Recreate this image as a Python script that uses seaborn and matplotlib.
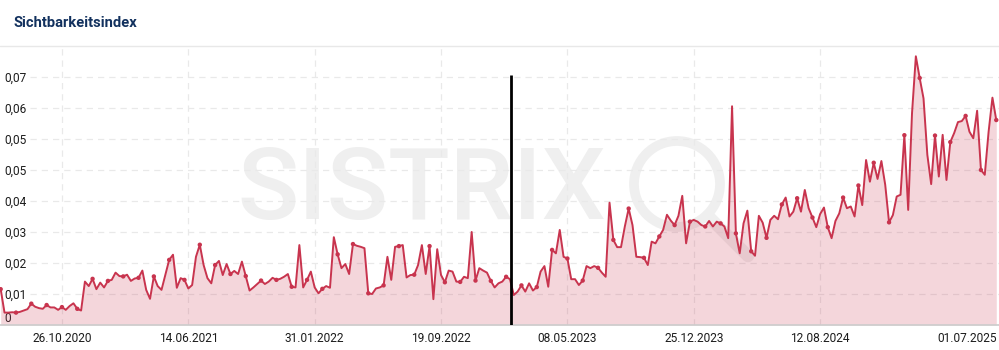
import matplotlib
matplotlib.use("Agg")
import matplotlib.pyplot as plt
import seaborn as sns
import pandas as pd
from matplotlib.patches import Circle
from matplotlib.lines import Line2D

# ---------------- data ----------------
title = "Sichtbarkeitsindex"
first_week = "2020-07-06"
visibility = [
    0.0104, 0.0036, 0.0036, 0.0037, 0.0036, 0.0038, 0.0042, 0.0046, 0.0062, 0.0053,
    0.0049, 0.0047, 0.0058, 0.0051, 0.0051, 0.0044, 0.0052, 0.0044, 0.0055, 0.0063,
    0.0047, 0.0042, 0.0126, 0.0113, 0.0134, 0.0104, 0.0123, 0.0109, 0.0128, 0.0131,
    0.0152, 0.0142, 0.0141, 0.0146, 0.0128, 0.0135, 0.0137, 0.0158, 0.0102, 0.0076,
    0.0141, 0.0113, 0.0102, 0.0145, 0.0189, 0.0204, 0.0108, 0.0136, 0.0131, 0.0106,
    0.0116, 0.0198, 0.0233, 0.0174, 0.0136, 0.0121, 0.0174, 0.0186, 0.0145, 0.0177,
    0.0148, 0.0157, 0.0148, 0.0184, 0.0142, 0.0100, 0.0109, 0.0119, 0.0129, 0.0119,
    0.0126, 0.0137, 0.0131, 0.0134, 0.0140, 0.0148, 0.0111, 0.0109, 0.0232, 0.0109,
    0.0131, 0.0155, 0.0109, 0.0092, 0.0105, 0.0113, 0.0108, 0.0255, 0.0205, 0.0165,
    0.0177, 0.0148, 0.0235, 0.0230, 0.0227, 0.0223, 0.0092, 0.0090, 0.0106, 0.0109,
    0.0115, 0.0198, 0.0131, 0.0227, 0.0229, 0.0232, 0.0138, 0.0145, 0.0146, 0.0174,
    0.0232, 0.0148, 0.0229, 0.0075, 0.0220, 0.0145, 0.0124, 0.0158, 0.0155, 0.0126,
    0.0125, 0.0140, 0.0136, 0.0270, 0.0129, 0.0165, 0.0158, 0.0152, 0.0128, 0.0109,
    0.0121, 0.0126, 0.0140, 0.0133, 0.0087, 0.0097, 0.0115, 0.0097, 0.0121, 0.0100,
    0.0110, 0.0155, 0.0171, 0.0111, 0.0218, 0.0208, 0.0276, 0.0198, 0.0193, 0.0133,
    0.0133, 0.0116, 0.0129, 0.0171, 0.0165, 0.0171, 0.0166, 0.0152, 0.0140, 0.0355,
    0.0247, 0.0226, 0.0226, 0.0286, 0.0338, 0.0290, 0.0198, 0.0197, 0.0195, 0.0174,
    0.0242, 0.0237, 0.0257, 0.0276, 0.0320, 0.0303, 0.0290, 0.0317, 0.0375, 0.0237,
    0.0300, 0.0305, 0.0300, 0.0290, 0.0286, 0.0302, 0.0286, 0.0300, 0.0295, 0.0286,
    0.0252, 0.0635, 0.0266, 0.0208, 0.0295, 0.0332, 0.0214, 0.0201, 0.0317, 0.0297,
    0.0253, 0.0305, 0.0317, 0.0307, 0.0350, 0.0370, 0.0315, 0.0329, 0.0368, 0.0329,
    0.0392, 0.0339, 0.0312, 0.0284, 0.0322, 0.0341, 0.0284, 0.0252, 0.0302, 0.0324,
    0.0370, 0.0339, 0.0344, 0.0315, 0.0405, 0.0348, 0.0479, 0.0416, 0.0471, 0.0424,
    0.0476, 0.0407, 0.0298, 0.0319, 0.0373, 0.0378, 0.0551, 0.0334, 0.0615, 0.0780,
    0.0717, 0.0658, 0.0494, 0.0409, 0.0550, 0.0431, 0.0552, 0.0421, 0.0531, 0.0557,
    0.0589, 0.0592, 0.0607, 0.0561, 0.0542, 0.0622, 0.0450, 0.0436, 0.0561, 0.0660,
    0.0595,
]
x_tick_labels = ["26.10.2020", "14.06.2021", "31.01.2022", "19.09.2022",
                 "08.05.2023", "25.12.2023", "12.08.2024", "01.07.2025"]
y_ticks = [0, 0.009, 0.018, 0.027, 0.036, 0.045, 0.054, 0.063, 0.072]
y_tick_labels = ["0", "0,01", "0,02", "0,03", "0,04", "0,05", "0,05", "0,06", "0,07"]
event_date = "2023-01-25"
event_top = 0.0726

# ---------------- style ----------------
LINE = "#c8344e"
GRID = "#e9e9e9"
TEXT = "#1c1c1c"

sns.set_theme(style="white")
plt.rcParams["font.family"] = ["Roboto", "DejaVu Sans"]

W, H = 999, 350
fig = plt.figure(figsize=(W / 100, H / 100), dpi=100)
fig.patch.set_facecolor("white")

# background watermark layer (pixel coordinates)
bg = fig.add_axes([0, 0, 1, 1], zorder=0)
bg.set_xlim(0, W)
bg.set_ylim(H, 0)
bg.axis("off")
bg.text(422, 192, "SISTRIX", fontsize=73, color="#efefef", ha="center",
        va="center", fontweight="medium")
bg.add_patch(Circle((677, 184), 43, fill=False, lw=7, ec="#efefef"))
bg.plot([708, 748], [216, 256], color="#efefef", lw=9, solid_capstyle="round")

# main chart
ax = fig.add_axes([0, 25 / H, 1, 278 / H], zorder=1)
ax.set_facecolor("none")

df = pd.DataFrame({
    "date": pd.date_range(first_week, periods=len(visibility), freq="7D"),
    "value": visibility,
})
df_dots = df.iloc[::4]

ax.fill_between(df["date"], df["value"], 0, color=LINE, alpha=0.2, lw=0, zorder=2)
sns.lineplot(data=df, x="date", y="value", ax=ax, color=LINE, linewidth=1.4, zorder=3)
sns.scatterplot(data=df_dots, x="date", y="value", ax=ax, color=LINE, s=10,
                edgecolor="none", zorder=4)

ax.set_xlim(pd.Timestamp("2020-07-04 18:00"), pd.Timestamp("2025-07-05"))
ax.set_ylim(0, 0.0807)

# grid
for t in y_ticks[1:]:
    ax.axhline(t, xmin=30 / W, xmax=1, color=GRID, lw=0.9, ls=(0, (5, 4)), zorder=1)
x_tick_dates = pd.to_datetime(x_tick_labels, format="%d.%m.%Y")
for d in x_tick_dates[:-1]:
    ax.axvline(d, color=GRID, lw=0.9, ls=(0, (5, 4)), zorder=1)

# event line
ax.vlines(pd.Timestamp(event_date), 0, event_top, color="black", lw=2, zorder=5)

# axes
for s in ["top", "right", "left"]:
    ax.spines[s].set_visible(False)
ax.spines["bottom"].set_color("#cccccc")
ax.spines["bottom"].set_linewidth(1.2)

ax.set_xticks(x_tick_dates)
ax.set_xticklabels(x_tick_labels)
ax.set_yticks(y_ticks)
ax.set_yticklabels(y_tick_labels)
ax.tick_params(axis="x", length=0, pad=5, labelsize=8.6, labelcolor=TEXT)
ax.tick_params(axis="y", length=0, pad=-3, labelsize=8.6, labelcolor=TEXT)
for lab in ax.get_yticklabels():
    lab.set_horizontalalignment("left")
ax.get_yticklabels()[0].set_verticalalignment("bottom")
ax.get_xticklabels()[-1].set_horizontalalignment("right")
ax.set_xlabel("")
ax.set_ylabel("")

# header
fig.text(14 / W, 1 - 23 / H, title, fontsize=10.6, fontweight="bold",
         color="#12315e", va="center", ha="left")
fig.add_artist(Line2D([0, 1], [1 - 45.5 / H] * 2, color="#e8e8e8", lw=1))

fig.savefig("out.png", dpi=100, facecolor="white")
